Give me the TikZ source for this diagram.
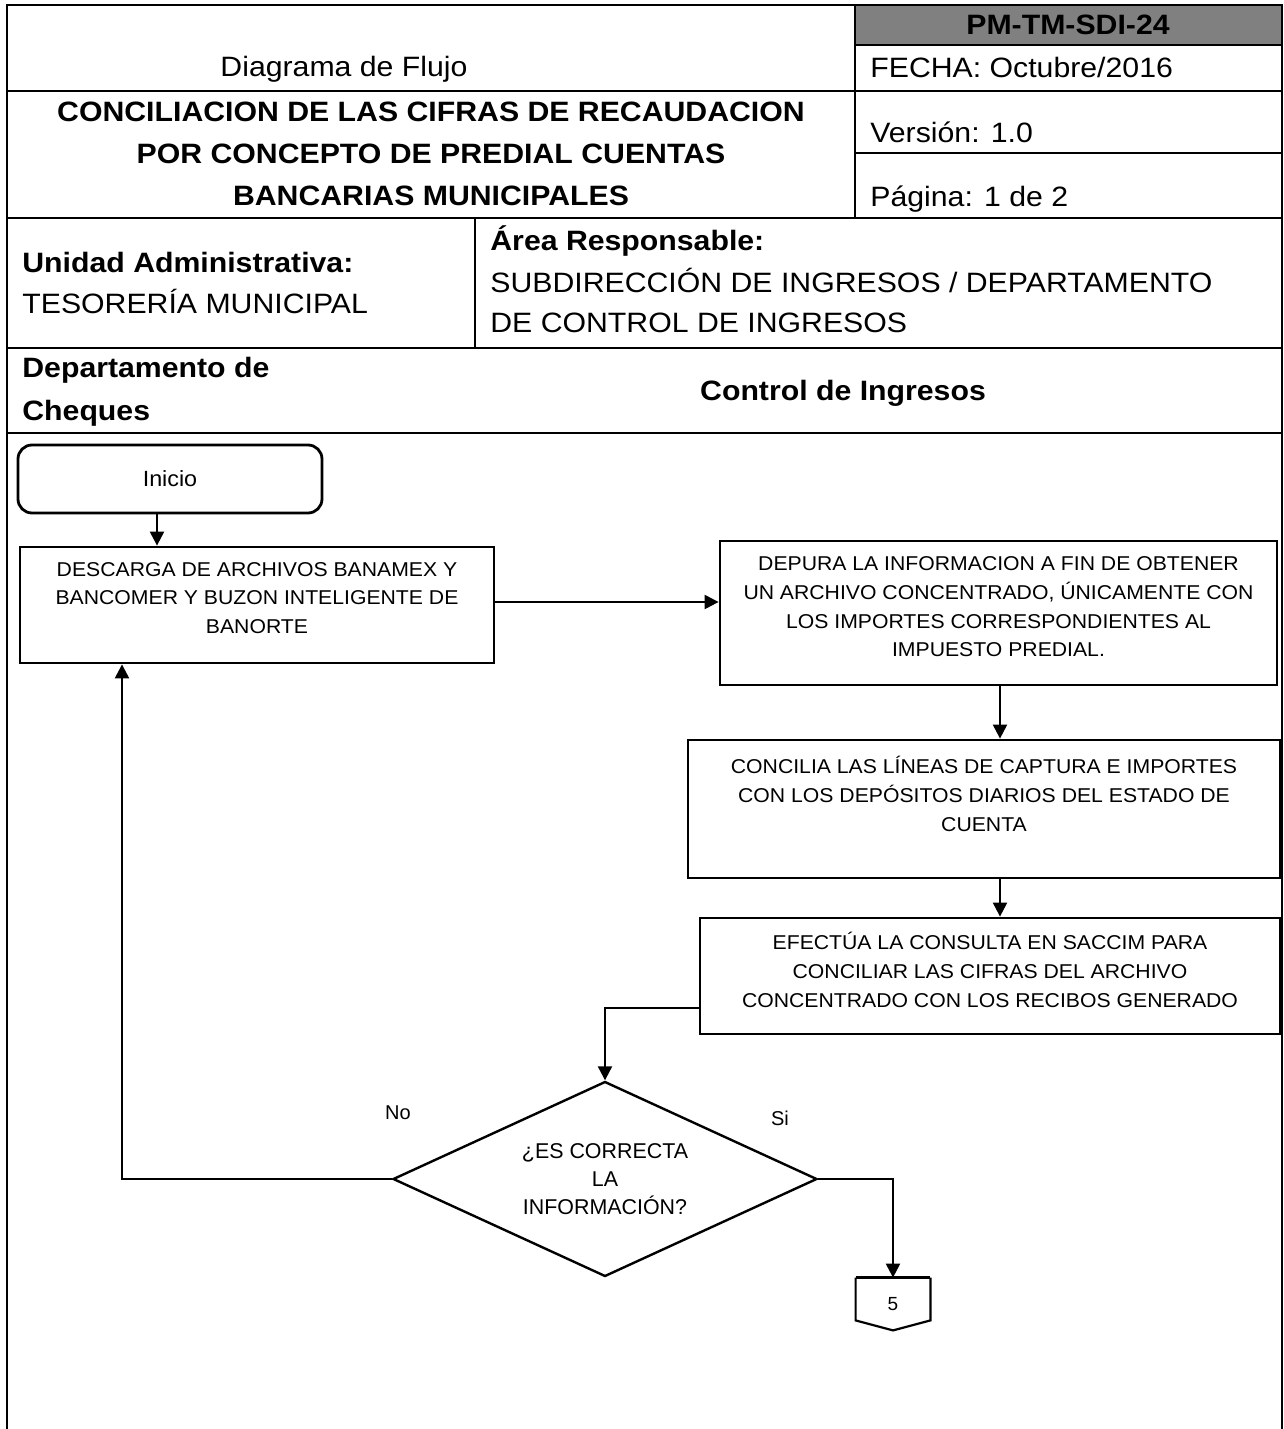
\documentclass[tikz,border=0pt]{standalone}
\usepackage{fontspec}
\setmainfont[FakeStretch=1.06]{Liberation Sans}
\newfontfamily\hfont[FakeStretch=1.08]{Liberation Sans}
\newfontfamily\plainfont{Liberation Sans}
\usetikzlibrary{arrows.meta,shapes.geometric,calc}
\begin{document}
\begin{tikzpicture}[x=0.5pt,y=-0.5pt,
  frame/.style={line width=1.4pt},
  hdr/.style={font=\hfont\fontsize{14}{21}\selectfont, inner sep=0pt},
  hdrb/.style={font=\hfont\bfseries\fontsize{14}{21}\selectfont, inner sep=0pt},
  box/.style={draw, line width=1.4pt, rectangle, inner sep=0pt},
  btxt/.style={font=\fontsize{10}{14.3}\selectfont, align=center, inner sep=0pt},
  lbl/.style={font=\plainfont\fontsize{10}{12}\selectfont, inner sep=0pt},
  arr/.style={line width=1.1pt, -{Triangle[length=7pt,width=7pt]}},
  conn/.style={line width=1.1pt}]
\useasboundingbox (0,0) rectangle (1284,1429);

% header grid
\fill[gray] (855,5) rectangle (1282,45);
\draw[frame] (7,1429) -- (7,5) -- (1282,5) -- (1282,1429);
\draw[frame] (855,45) -- (1282,45);
\draw[frame] (7,91) -- (1282,91);
\draw[frame] (855,153) -- (1282,153);
\draw[frame] (7,218) -- (1282,218);
\draw[frame] (7,348) -- (1282,348);
\draw[frame] (7,433) -- (1282,433);
\draw[frame] (855,5) -- (855,218);
\draw[frame] (475,218) -- (475,348);

% header texts
\node[hdr, anchor=base] (tipo) at (344,77) {Diagrama de Flujo};
\node[hdrb, align=center] (titulo) at (431,154) {CONCILIACION DE LAS CIFRAS DE RECAUDACION\\POR CONCEPTO DE PREDIAL CUENTAS\\BANCARIAS MUNICIPALES};
\node[hdrb, anchor=base] (codigo) at (1068,35) {PM-TM-SDI-24};
\node[hdr, anchor=base west] (fecha) at (870,78) {FECHA: Octubre/2016};
\node[hdr, anchor=base west] (version) at (870,142) {Versión: 1.0};
\node[hdr, anchor=base west] (pagina) at (870,206) {Página: 1 de 2};
\node[hdrb, anchor=base west] (unidad) at (22,272) {Unidad Administrativa:};
\node[hdr, anchor=base west] (tesoreria) at (22,313) {TESORERÍA MUNICIPAL};
\node[hdrb, anchor=base west] (area) at (490,250) {Área Responsable:};
\node[hdr, anchor=base west] (area1) at (490,292) {SUBDIRECCIÓN DE INGRESOS / DEPARTAMENTO};
\node[hdr, anchor=base west] (area2) at (490,332) {DE CONTROL DE INGRESOS};
\node[hdrb, anchor=base west] (dep1) at (22,377) {Departamento de};
\node[hdrb, anchor=base west] (dep2) at (22,420) {Cheques};
\node[hdrb, anchor=base] (ctrl) at (843,400) {Control de Ingresos};

% flow
\node[draw, rounded corners=7pt, line width=1.4pt, minimum width=152pt, minimum height=34pt, inner sep=0pt, font=\fontsize{11}{12}\selectfont] (ini) at (170,479) {Inicio};

\node[box, minimum width=237pt, minimum height=58pt] (b1) at (257,605) {};
\node[btxt] (t1) at (257,598) {DESCARGA DE ARCHIVOS BANAMEX Y\\BANCOMER Y BUZON INTELIGENTE DE\\BANORTE};

\node[box, minimum width=278.5pt, minimum height=72pt] (b2) at (998.5,613) {};
\node[btxt] (t2) at (998.5,607) {DEPURA LA INFORMACION A FIN DE OBTENER\\UN ARCHIVO CONCENTRADO, ÚNICAMENTE CON\\LOS IMPORTES CORRESPONDIENTES AL\\IMPUESTO PREDIAL.};

\node[box, minimum width=296pt, minimum height=69pt] (b3) at (984,809) {};
\node[btxt] (t3) at (984,794) {CONCILIA LAS LÍNEAS DE CAPTURA E IMPORTES\\CON LOS DEPÓSITOS DIARIOS DEL ESTADO DE\\CUENTA};

\node[box, minimum width=290pt, minimum height=58pt] (b4) at (990,976) {};
\node[btxt] (t4) at (990,970) {EFECTÚA LA CONSULTA EN SACCIM PARA\\CONCILIAR LAS CIFRAS DEL ARCHIVO\\CONCENTRADO CON LOS RECIBOS GENERADO};

\node[draw, diamond, line width=1.2pt, minimum width=212pt, minimum height=97.5pt, inner sep=0pt, aspect=2.17, align=center, font=\plainfont\fontsize{10.7}{14}\selectfont] (dec) at (605,1179) {¿ES CORRECTA\\LA\\INFORMACIÓN?};

\node[minimum width=37pt, minimum height=26pt, inner sep=0pt, font=\plainfont\fontsize{9.5}{10}\selectfont] (off) at (893,1304) {5};
\draw[line width=1.1pt] (off.north west) -- ([yshift=5pt]off.south west) -- (off.south) -- ([yshift=5pt]off.south east) -- (off.north east);
\draw[line width=1.8pt] (off.north west) -- (off.north east);

\node[lbl] (no) at (398,1113) {No};
\node[lbl] (si) at (780,1118) {Si};

% connectors
\draw[arr] ([xshift=-6.5pt]ini.south) -- ([xshift=-6.5pt]ini.south |- b1.north);
\draw[arr] ([yshift=1.5pt]b1.east) -- ([yshift=1.5pt]b1.east -| b2.west);
\draw[arr] ([xshift=0.75pt]b2.south) -- ([xshift=0.75pt]b2.south |- b3.north);
\draw[arr] ([xshift=0.75pt]b2.south |- b3.south) -- ([xshift=0.75pt]b2.south |- b4.north);
\draw[arr] ([yshift=-16pt]b4.west) -| (dec.north);
\coordinate (lp) at (122,1177);
\draw[arr] (dec.west) -| (lp |- b1.south);
\draw[arr] (dec.east) -| (off.north);
\end{tikzpicture}
\end{document}
